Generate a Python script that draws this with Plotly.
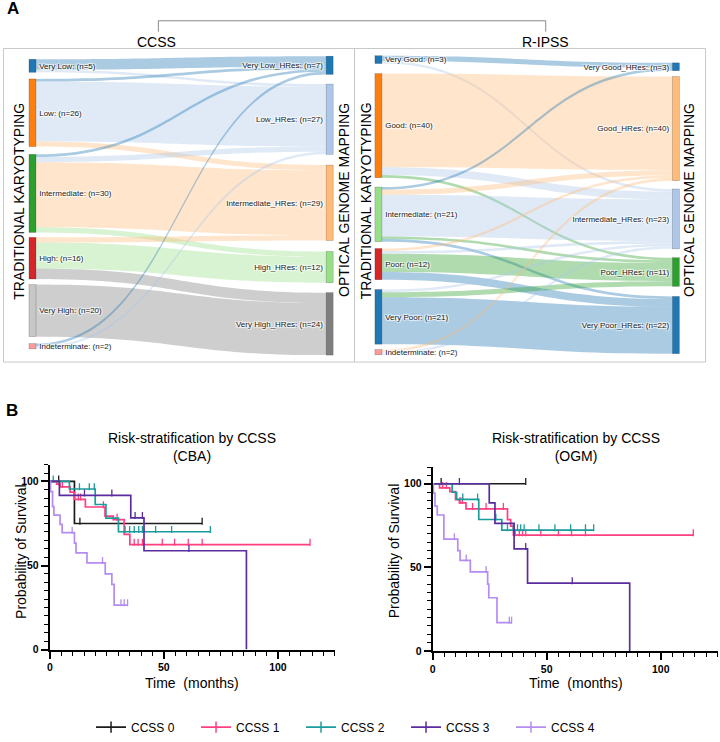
import plotly.graph_objects as go

W, H = 720, 742
def px(x): return x / W
def py(y): return 1 - y / H

FONT = "Liberation Sans, Arial, sans-serif"

# ---------------- Panel A data ----------------
ccss_labels = ["Very Low: (n=5)", "Low: (n=26)", "Intermediate: (n=30)", "High: (n=16)",
               "Very High: (n=20)", "Indeterminate: (n=2)",
               "Very Low_HRes: (n=7)", "Low_HRes: (n=27)", "Intermediate_HRes: (n=29)",
               "High_HRes: (n=12)", "Very High_HRes: (n=24)"]
ccss_colors = ["#1f77b4", "#ff7f0e", "#2ca02c", "#d62728", "#c7c7c7", "#ff9896",
               "#1f77b4", "#aec7e8", "#ffbb78", "#98df8a", "#7f7f7f"]
ccss_source = [0, 0, 1, 1, 1, 2, 2, 2, 2, 3, 3, 3, 4, 5, 5]
ccss_target = [6, 7, 6, 7, 8, 6, 7, 8, 9, 8, 9, 10, 10, 6, 7]
ccss_value = [4, 1, 1, 23, 2, 1, 2, 25, 2, 2, 10, 4, 20, 1, 1]

ripss_labels = ["Very Good: (n=3)", "Good: (n=40)", "Intermediate: (n=21)", "Poor: (n=12)",
                "Very Poor: (n=21)", "Indeterminate: (n=2)",
                "Very Good_HRes: (n=3)", "Good_HRes: (n=40)", "Intermediate_HRes: (n=23)",
                "Poor_HRes: (n=11)", "Very Poor_HRes: (n=22)"]
ripss_colors = ["#1f77b4", "#ff7f0e", "#98df8a", "#d62728", "#1f77b4", "#ff9896",
                "#1f77b4", "#ffbb78", "#aec7e8", "#2ca02c", "#1f77b4"]
ripss_source = [0, 0, 1, 1, 1, 2, 2, 2, 2, 2, 3, 3, 3, 3, 4, 4, 4, 5, 5]
ripss_target = [6, 8, 7, 8, 9, 6, 7, 8, 9, 10, 7, 8, 9, 10, 8, 9, 10, 7, 8]
ripss_value = [2, 1, 36, 3, 1, 1, 2, 16, 1, 1, 1, 1, 7, 3, 1, 2, 18, 1, 1]

# ---------------- Panel B data (Kaplan-Meier) ----------------
series_names = ["CCSS 0", "CCSS 1", "CCSS 2", "CCSS 3", "CCSS 4"]
series_colors = ["#1c1c1c", "#ff3f80", "#1a9c9c", "#5a2ca0", "#b48cf2"]

# CBA
cba_t0 = [0, 10.8, 66.8]
cba_s0 = [100, 75, 75]
cba_c0 = [3.9, 13.2, 66.8]
cba_t1 = [0, 3.0, 4.5, 8.9, 10.8, 15.6, 24.2, 27.8, 32.6, 35.1, 114.1]
cba_s1 = [100, 98.4, 96.8, 93.6, 89.4, 84.8, 79.4, 77.3, 68.5, 62.4, 62.4]
cba_c1 = [5.5, 12.5, 13.5, 23.5, 29.5, 37.0, 38.7, 40.6, 49.3, 54.7, 60.7, 66.8, 114.1]
cba_t2 = [0, 8.6, 19.9, 24.6, 30.1, 70.4]
cba_s2 = [100, 95.5, 86.3, 78.2, 70.1, 70.1]
cba_c2 = [1.5, 13.0, 17.3, 19.5, 33.0, 35.0, 37.0, 39.0, 40.6, 46.4, 53.4, 70.4]
cba_t3 = [0, 4.2, 35.5, 41.3, 86.2]
cba_s3 = [100, 91.7, 78.4, 58.8, 0]
cba_c3 = [15.2, 27.2, 37.4, 40.6, 61.0]
cba_t4 = [0, 0.3, 1.2, 1.8, 4.5, 5.4, 10.8, 11.5, 16.3, 24.3, 27.2, 28.2, 34.1]
cba_s4 = [100, 94, 85, 80, 74.5, 69.6, 63.3, 57.5, 51.6, 45.1, 38.8, 26.5, 26.5]
cba_c4 = [9.8, 23.1, 31.2, 32.6, 34.1]

# OGM
ogm_t0 = [0, 40.8]
ogm_s0 = [100, 100]
ogm_c0 = [3.7, 40.8]
ogm_t1 = [0, 3.0, 7.5, 10.0, 11.7, 14.6, 32.8, 34.2, 35.4, 114.3]
ogm_s1 = [100, 97.5, 95.3, 90.5, 88.6, 85, 78.5, 74.6, 69.3, 69.3]
ogm_c1 = [4.4, 6.0, 12.0, 13.0, 17.5, 23.4, 31.0, 36.2, 38.0, 39.4, 40.8, 47.4, 55.1, 60.9, 67.0, 114.3]
ogm_t2 = [0, 8.5, 10.5, 20.2, 30.3, 70.6]
ogm_s2 = [100, 94.9, 90.6, 78.6, 72.2, 72.2]
ogm_c2 = [13.2, 19.7, 27.7, 32.8, 35.3, 37.2, 38.6, 40.1, 46.6, 53.6, 60.5, 67.0, 70.6]
ogm_t3 = [0, 24.8, 27.3, 35.7, 41.6, 86.4]
ogm_s3 = [100, 88.6, 76.3, 61.0, 40.6, 0]
ogm_c3 = [11.7, 40.8, 61.2]
ogm_t4 = [0, 0.3, 1.0, 2.0, 4.9, 11.0, 12.0, 16.5, 24.1, 24.6, 28.2, 34.6]
ogm_s4 = [100, 94.4, 86.6, 81.3, 66.9, 60.0, 54.2, 47.3, 40.0, 31.8, 16.9, 16.9]
ogm_c4 = [9.5, 14.7, 23.4, 33.6, 34.6]

y_ticks = [0, 50, 100]
x_ticks = [0, 50, 100]

# ---------------- helpers ----------------
def rgba(hexc, a):
    hexc = hexc.lstrip("#")
    r, g, b = int(hexc[0:2], 16), int(hexc[2:4], 16), int(hexc[4:6], 16)
    return f"rgba({r},{g},{b},{a})"

def step_at(ts, ss, t):
    v = ss[0]
    for ti, si in zip(ts, ss):
        if ti <= t:
            v = si
    return v

fig = go.Figure()

# ---------------- Sankeys ----------------
SK_TOP, SK_BOT = 50, 366

def ny(c):
    return (c - SK_TOP) / (SK_BOT - SK_TOP)

def add_sankey(labels, colors, src, tgt, val, x0, x1, left_y, right_y):
    nodex = [0.001] * 6 + [0.999] * 5
    nodey = [ny(v) for v in left_y + right_y]
    link_colors = [rgba(colors[t], 0.38) for t in tgt]
    fig.add_trace(go.Sankey(
        domain=dict(x=[px(x0), px(x1)], y=[py(SK_BOT), py(SK_TOP)]),
        arrangement="fixed",
        node=dict(label=labels, color=colors, x=nodex, y=nodey, pad=11, thickness=7,
                  line=dict(width=0.5, color="rgba(0,0,0,0.35)")),
        link=dict(source=src, target=tgt, value=val, color=link_colors),
        textfont=dict(size=8, color="#222", family=FONT),
    ))

add_sankey(ccss_labels, ccss_colors, ccss_source, ccss_target, ccss_value, 29.3, 328.3,
           [66.5, 114, 195.5, 261, 314, 350],
           [66, 120.5, 205, 270, 327.4])
add_sankey(ripss_labels, ripss_colors, ripss_source, ripss_target, ripss_value, 376.7, 676,
           [60.3, 127, 216.7, 267, 320.3, 356],
           [67.5, 130, 221.3, 275, 328.6])

# ---------------- KM curves ----------------
km_sets = [
    ("x", "y", [(cba_t0, cba_s0, cba_c0), (cba_t1, cba_s1, cba_c1), (cba_t2, cba_s2, cba_c2),
                (cba_t3, cba_s3, cba_c3), (cba_t4, cba_s4, cba_c4)]),
    ("x2", "y2", [(ogm_t0, ogm_s0, ogm_c0), (ogm_t1, ogm_s1, ogm_c1), (ogm_t2, ogm_s2, ogm_c2),
                  (ogm_t3, ogm_s3, ogm_c3), (ogm_t4, ogm_s4, ogm_c4)]),
]
for xa, ya, sets in km_sets:
    for i, (ts, ss, cs) in enumerate(sets):
        fig.add_trace(go.Scatter(x=ts, y=ss, mode="lines", line=dict(color=series_colors[i], width=1.7, shape="hv"),
                                 xaxis=xa, yaxis=ya, showlegend=False, hoverinfo="skip"))
        cy = [step_at(ts, ss, c) + 1.4 for c in cs]
        fig.add_trace(go.Scatter(x=cs, y=cy, mode="markers",
                                 marker=dict(symbol="line-ns", size=5, line=dict(color=series_colors[i], width=1.3)),
                                 xaxis=xa, yaxis=ya, showlegend=False, hoverinfo="skip"))

for i, name in enumerate(series_names):
    fig.add_trace(go.Scatter(x=[None], y=[None], mode="lines+markers", name=name,
                             line=dict(color=series_colors[i], width=1.6),
                             marker=dict(symbol="line-ns", size=8, line=dict(color=series_colors[i], width=1.5)),
                             xaxis="x", yaxis="y"))

axis_common = dict(showline=True, linecolor="black", linewidth=2, ticks="outside", ticklen=7, tickwidth=1.5,
                   tickcolor="black", showgrid=False, zeroline=False,
                   tickfont=dict(size=10.5, color="black", family=FONT, weight="bold"),
                   minor=dict(ticks="outside", ticklen=4, tickwidth=1.2, tickcolor="black", dtick=5, showgrid=False))

fig.update_layout(
    xaxis=dict(domain=[px(47), px(333.3)], range=[0, 125], tickvals=x_ticks, anchor="y", **axis_common),
    yaxis=dict(domain=[py(656.7), py(469.7)], range=[0, 110], tickvals=y_ticks, anchor="x", **axis_common),
    xaxis2=dict(domain=[px(431.5), px(717.7)], range=[0, 125], tickvals=x_ticks, anchor="y2", **axis_common),
    yaxis2=dict(domain=[py(658), py(472.1)], range=[0, 110], tickvals=y_ticks, anchor="x2", **axis_common),
)

# ---------------- Shapes & annotations ----------------
shapes = []
line_grey = dict(color="#c8c8c8", width=1)
shapes.append(dict(type="rect", xref="paper", yref="paper", x0=px(0.5), x1=px(353), y0=py(SK_BOT), y1=py(49), line=line_grey))
shapes.append(dict(type="rect", xref="paper", yref="paper", x0=px(353), x1=px(705.5), y0=py(SK_BOT), y1=py(49), line=line_grey))
br = dict(color="#888888", width=1)
shapes.append(dict(type="line", xref="paper", yref="paper", x0=px(156), x1=px(156), y0=py(32), y1=py(21), line=br))
shapes.append(dict(type="line", xref="paper", yref="paper", x0=px(156), x1=px(545), y0=py(21), y1=py(21), line=br))
shapes.append(dict(type="line", xref="paper", yref="paper", x0=px(545), x1=px(545), y0=py(21), y1=py(32), line=br))

ann = []
def text(x, y, s, size, angle=0, bold=False, xanchor="center"):
    ann.append(dict(x=px(x), y=py(y), xref="paper", yref="paper", text=s, showarrow=False,
                    textangle=angle, xanchor=xanchor, yanchor="middle",
                    font=dict(size=size, color="black", family=FONT, weight="bold" if bold else "normal")))

text(10, 9, "A", 17, bold=True)
text(9, 415, "B", 17, bold=True)
text(154, 42, "CCSS", 14)
text(545, 42, "R-IPSS", 14)
text(16, 203, "TRADITIONAL KARYOTYPING", 14, angle=-90)
text(342.5, 202, "OPTICAL GENOME MAPPING", 14, angle=-90)
text(364, 203, "TRADITIONAL KARYOTYPING", 14, angle=-90)
text(689, 202, "OPTICAL GENOME MAPPING", 14, angle=-90)

text(190, 452, "Risk-stratification by CCSS<br>(CBA)", 14)
text(575, 452, "Risk-stratification by CCSS<br>(OGM)", 14)
text(18, 557, "Probability of Survival", 14, angle=-90)
text(393, 557, "Probability of Survival", 14, angle=-90)
text(190, 690, "Time\u00a0\u00a0(months)", 14)
text(575, 690, "Time\u00a0\u00a0(months)", 14)

fig.update_layout(
    width=W, height=H, margin=dict(l=0, r=0, t=0, b=0),
    paper_bgcolor="white", plot_bgcolor="white",
    font=dict(family=FONT, color="black"),
    shapes=shapes, annotations=ann,
    legend=dict(orientation="h", x=px(352), xanchor="center", y=py(735), yanchor="middle",
                font=dict(size=12, family=FONT, color="black"), itemwidth=30,
                entrywidth=60, entrywidthmode="pixels", bgcolor="rgba(0,0,0,0)"),
)

fig.write_html("out.html", config={"displayModeBar": False},
               post_script="document.body.style.margin='0px';")
